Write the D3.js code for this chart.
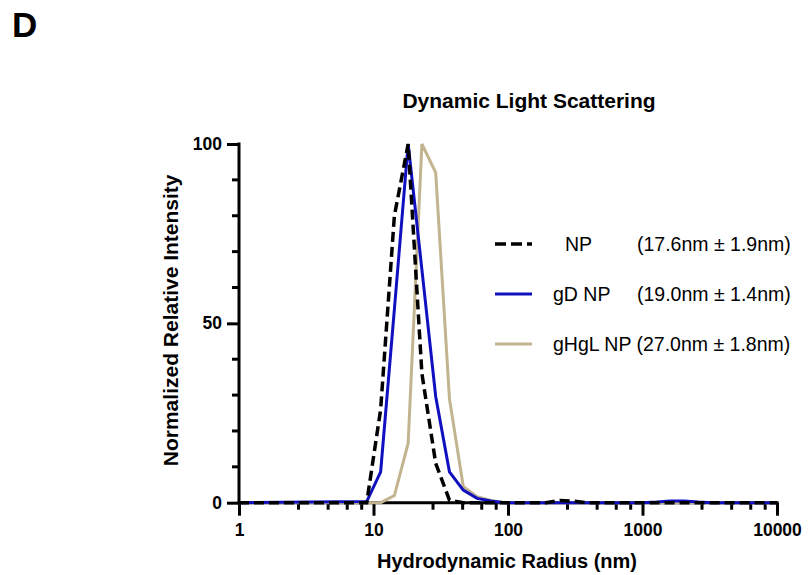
<!DOCTYPE html>
<html>
<head>
<meta charset="utf-8">
<script src="https://cdn.jsdelivr.net/npm/d3@7"></script>
<style>
  body { margin: 0; background: #fff; }
  svg text { font-family: "Liberation Sans", Arial, sans-serif; fill: #000; }
</style>
</head>
<body>
<div id="chart"></div>
<script>
// DLS size bins (nm) and normalized intensities
const radius = [1, 8.9, 11.3, 14.3, 18.1, 22.9, 29.0, 36.7, 46.5, 58.9, 74.6, 94.5,
                152, 192, 243, 308, 390, 1004, 1272, 1611, 2040, 2584, 3273, 10000];
const npVals   = [0, 0, 26, 80, 100, 36, 11, 0.7, 0, 0, 0, 0,
                  0, 0, 0.6, 0.4, 0, 0, 0, 0, 0, 0, 0, 0];
const gdVals   = [0, 0.3, 8.6, 54, 100, 65, 29.6, 8.6, 3.5, 1.2, 0.5, 0,
                  0, 0, 0, 0, 0, 0, 0.2, 0.5, 0.5, 0.2, 0, 0];
const ghglVals = [0, 0, 0, 2, 16.6, 100, 92, 29, 4.5, 1.7, 0.6, 0,
                  0, 0, 0, 0, 0, 0, 0, 0, 0, 0, 0, 0];

const seriesNames = ["NP", "gD NP", "gHgL NP"];
const seriesStats = ["(17.6nm \u00b1 1.9nm)", "(19.0nm \u00b1 1.4nm)", "(27.0nm \u00b1 1.8nm)"];

const xMajor = [1, 10, 100, 1000, 10000];
const xMinorMult = [2.77, 4.6, 6.38, 8.17];
const yMajor = [0, 50, 100];
const yMinor = [10, 20, 30, 40, 60, 70, 80, 90];

const W = 809, H = 575;
const pLeft = 239, pRight = 777, pTop = 144, pBottom = 502.7;

const svg = d3.select("#chart").append("svg")
    .attr("width", W).attr("height", H);

const x = d3.scaleLog().domain([1, 10000]).range([pLeft, pRight]);
const y = d3.scaleLinear().domain([0, 100]).range([pBottom, pTop]);

// panel letter + title
svg.append("text").attr("x", 12).attr("y", 37)
    .style("font-size", "35px").style("font-weight", "bold").text("D");
svg.append("text").attr("x", 529).attr("y", 108).attr("text-anchor", "middle")
    .style("font-size", "21px").style("font-weight", "bold").text("Dynamic Light Scattering");

// x axis
const xMinor = [];
xMajor.slice(0, -1).forEach(d => xMinorMult.forEach(m => xMinor.push(d * m)));

const xg = svg.append("g").attr("transform", `translate(0,${pBottom})`);
xg.call(d3.axisBottom(x).tickValues(xMajor).tickFormat(d3.format("d"))
      .tickSize(13).tickPadding(8));
xg.call(g => g.select(".domain").remove());
xg.append("g").selectAll("line").data(xMinor).join("line")
    .attr("x1", d => x(d)).attr("x2", d => x(d))
    .attr("y1", 0).attr("y2", 7);
xg.append("line").attr("x1", pLeft - 1.5).attr("x2", pRight + 1.5);

// y axis
const yg = svg.append("g").attr("transform", `translate(${pLeft},0)`);
yg.call(d3.axisLeft(y).tickValues(yMajor).tickSize(12).tickPadding(5));
yg.call(g => g.select(".domain").remove());
yg.append("g").selectAll("line").data(yMinor).join("line")
    .attr("y1", d => y(d)).attr("y2", d => y(d))
    .attr("x1", 0).attr("x2", -7);
yg.append("line").attr("y1", pTop - 1.5).attr("y2", pBottom + 1.5);

svg.selectAll("g line").attr("stroke", "#000").attr("stroke-width", 3);
svg.selectAll(".tick text")
    .style("font-size", "17.5px").style("font-weight", "bold")
    .style("font-family", "'Liberation Sans', Arial, sans-serif");

// axis titles
svg.append("text").attr("x", 507).attr("y", 568).attr("text-anchor", "middle")
    .style("font-size", "20px").style("font-weight", "bold").text("Hydrodynamic Radius (nm)");
svg.append("text").attr("transform", `translate(178,${(pTop + pBottom) / 2 - 3}) rotate(-90)`)
    .attr("text-anchor", "middle")
    .style("font-size", "21px").style("font-weight", "bold").text("Normalized Relative Intensity");

// curves
const styles = [
  { color: "#000000", width: 3.5, dash: "10,5" },
  { color: "#1010c0", width: 3, dash: null },
  { color: "#c1b48f", width: 3, dash: null }
];
const seriesVals = [npVals, gdVals, ghglVals];
const line = d3.line().x((d, i) => x(radius[i])).y(d => y(d));

[2, 1, 0].forEach(k => {
  svg.append("path").datum(seriesVals[k])
      .attr("d", line)
      .attr("fill", "none")
      .attr("stroke", styles[k].color)
      .attr("stroke-width", styles[k].width)
      .attr("stroke-dasharray", styles[k].dash)
      .attr("stroke-linejoin", "miter");
});

// legend
const legY = [244, 294, 344];
const nameX = [565, 553, 553];
const statX = [637, 637, null];
seriesNames.forEach((name, k) => {
  svg.append("line")
      .attr("x1", 495).attr("x2", 532).attr("y1", legY[k]).attr("y2", legY[k])
      .attr("stroke", styles[k].color).attr("stroke-width", styles[k].width)
      .attr("stroke-dasharray", k === 0 ? "11,5" : null);
  const t = svg.append("text").attr("y", legY[k] + 7).style("font-size", "19.5px");
  t.append("tspan").attr("x", nameX[k]).text(name);
  const s = t.append("tspan").text(statX[k] === null ? " " + seriesStats[k] : seriesStats[k]);
  if (statX[k] !== null) s.attr("x", statX[k]);
});
</script>
</body>
</html>
